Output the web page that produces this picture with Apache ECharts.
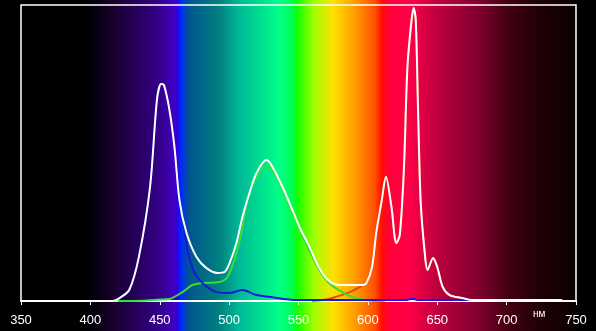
<!DOCTYPE html>
<html>
<head>
<meta charset="utf-8">
<script src="https://cdn.jsdelivr.net/npm/echarts@6/dist/echarts.min.js"></script>
<style>
html,body{margin:0;padding:0;background:#000;}
#c{width:596px;height:331px;}
</style>
</head>
<body>
<div id="c"></div>
<script>
// X axis (nm)
const axisMin = 350, axisMax = 750, axisStep = 50;
const unitLabel = 'нм';

// Total (white) spectrum
const whiteNm  = [350,416,421,428,435,443,448,451,453,457,460.6,464.2,469.3,476.5,483.7,491.6,496.7,500.3,505.3,509.6,514.7,519.7,526.9,531.3,538.5,545.7,550.7,558,565,572,580,596,599,603,606,610,613,617,620.5,623,626,628.5,631.5,633,634.5,636,638,641,643,647,650,654,659,668,675,740];
const whiteVal = [0,0,1,3.7,15,38.5,68,73.3,73,64.5,52,34.1,23,14.9,11.1,9.5,9.8,12.8,19.6,28.4,36.5,43.2,47.6,45.3,38.5,30.7,25,18.2,11.1,6.8,5.4,5.4,6.1,11.5,23,34,42,31.8,19.6,22.3,45,79,95,99,95,68,34,16.2,10.5,14.5,11.5,4.7,2,1,0.3,0.3];

// Blue component
const blueNm  = [410,416,421,428,435,443,448,451,453,457,460.6,464.2,466.4,470,475,480.8,490.9,500.3,509.6,519.7,529,548.5,600,628,632,636,680];
const blueVal = [0,0,1,3.7,15,38.5,68,73.3,73,64.5,52,34.1,28.4,17.2,9.5,6.1,3,2.7,3.7,2,1.4,0.3,0.3,0.3,0.8,0.3,0.3];

// Green component
const greenNm  = [420,437,450,457,466.4,473.6,480.8,493,498.8,503.8,508.9,513.2,519.7,526.9,531.3,538.5,545.7,550.7,558,565,572,580,587,594,603,612];
const greenVal = [0,0.1,0.5,0.7,3,5.4,6.1,6.4,8.1,13.9,23,34.1,41.9,45.9,44.3,37.5,29.7,24,16.9,10.5,6.1,3.4,1.7,0.7,0.1,0];

// Red component
const redNm  = [560,570,577,587,596,599,603,606,610,613,617,620.5,623,626,628.5,631.5,633,634.5,636,638,641,643,647,650,654,659,668,675,740];
const redVal = [0,0.5,1.4,3,5.2,6,11.4,22.8,33.8,41.6,31.6,19.4,22,44.8,78.6,94.6,98.6,94.6,67.6,33.8,16,10.3,14.3,11.3,4.5,1.9,0.9,0.3,0.3];

// Spectrum background colour stops (nm, colour)
const specNm  = [350,397,421,450,460,463,465,471,493,507,536,546,549,561,575,590,605,610,615,630,649,680,702,724,750];
const specCol = ['#000000','#000000','#1c0038','#35008a','#4200c0','#3000e0','#0028ff','#005590','#00807f','#00b898','#00ff88','#00ff50','#10ff00','#a0ff00','#ffe000','#ffa000','#ff5000','#ff1000','#ff0038','#ff0048','#c00040','#800030','#400010','#200008','#0a0000'];

const pairs = (xs, ys) => xs.map((x, i) => [x, ys[i]]);
const stops = specNm.map((n, i) => ({offset: (n - axisMin) / (axisMax - axisMin), color: specCol[i]}));

const chart = echarts.init(document.getElementById('c'));
const font = "'Liberation Sans', Arial, sans-serif";
const lineSeries = (name, xs, ys, color, z) => ({
  name, type: 'line', xAxisIndex: 1, yAxisIndex: 1,
  data: pairs(xs, ys), showSymbol: false, symbol: 'none',
  smooth: 0.3, z,
  lineStyle: {color, width: 2}, animation: false
});

chart.setOption({
  backgroundColor: '#000',
  animation: false,
  grid: [
    {left: 21, right: 20, top: 0, bottom: 0, show: true, borderWidth: 0,
     backgroundColor: {type: 'linear', x: 0, y: 0, x2: 1, y2: 0, colorStops: stops}},
    {left: 21, right: 20, top: 5, bottom: 30, show: true, z: 1,
     backgroundColor: 'transparent', borderColor: '#ffffff', borderWidth: 1.5}
  ],
  xAxis: [
    {gridIndex: 0, type: 'value', min: axisMin, max: axisMax, show: false},
    {gridIndex: 1, type: 'value', min: axisMin, max: axisMax, interval: axisStep,
     name: unitLabel, nameLocation: 'end', nameGap: -43,
     nameTextStyle: {color: '#fff', fontSize: 10, fontFamily: font, verticalAlign: 'top', padding: [8, 0, 0, 0]},
     axisLine: {show: true, lineStyle: {color: '#fff', width: 2}},
     axisTick: {show: true, length: 4, lineStyle: {color: '#fff', width: 1}},
     axisLabel: {color: '#fff', fontSize: 13, fontFamily: font, margin: 13, showMinLabel: true, showMaxLabel: true},
     splitLine: {show: false}}
  ],
  yAxis: [
    {gridIndex: 0, type: 'value', min: 0, max: 100, show: false},
    {gridIndex: 1, type: 'value', min: 0, max: 100, show: false, splitLine: {show: false}}
  ],
  series: [
    lineSeries('red', redNm, redVal, '#e04a10', 2),
    lineSeries('green', greenNm, greenVal, '#33e033', 3),
    lineSeries('blue', blueNm, blueVal, '#1818e0', 4),
    lineSeries('total', whiteNm, whiteVal, '#ffffff', 5)
  ]
});
</script>
</body>
</html>
